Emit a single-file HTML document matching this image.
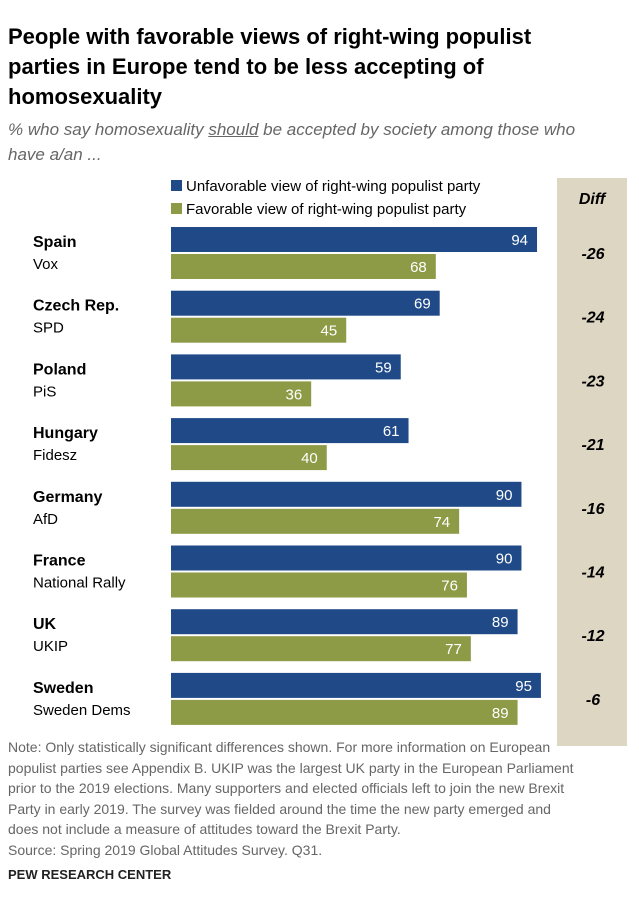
<!DOCTYPE html>
<html><head><meta charset="utf-8"><style>
body{margin:0;width:639px;height:912px;background:#fff;font-family:"Liberation Sans",sans-serif;position:relative;overflow:hidden}
.t{position:absolute;white-space:nowrap}
</style></head><body>
<div class="t" style="left:8px;top:22px;font-size:22px;font-weight:bold;line-height:30px;color:#000">People with favorable views of right-wing populist<br>parties in Europe tend to be less accepting of<br>homosexuality</div>
<div class="t" style="left:8px;top:117px;font-size:17px;font-style:italic;line-height:25px;color:#666">% who say homosexuality <u>should</u> be accepted by society among those who<br>have a/an ...</div>
<svg id="chart" width="639" height="912" style="position:absolute;left:0;top:0"></svg>
<div class="t" style="left:8px;top:737px;font-size:14px;line-height:20.5px;color:#666">Note: Only statistically significant differences shown. For more information on European<br>populist parties see Appendix B. UKIP was the largest UK party in the European Parliament<br>prior to the 2019 elections. Many supporters and elected officials left to join the new Brexit<br>Party in early 2019. The survey was fielded around the time the new party emerged and<br>does not include a measure of attitudes toward the Brexit Party.<br>Source: Spring 2019 Global Attitudes Survey. Q31.</div>
<div class="t" style="left:8px;top:867px;font-size:13px;font-weight:bold;color:#222">PEW RESEARCH CENTER</div>
<script>
const countries=["Spain","Czech Rep.","Poland","Hungary","Germany","France","UK","Sweden"];
const parties=["Vox","SPD","PiS","Fidesz","AfD","National Rally","UKIP","Sweden Dems"];
const unfav=[94,69,59,61,90,90,89,95];
const fav=[68,45,36,40,74,76,77,89];
const diffs=[-26,-24,-23,-21,-16,-14,-12,-6];
const NS="http://www.w3.org/2000/svg";
const svg=document.getElementById("chart");
const x=v=>171+v*3.894;
const rowY=i=>227+i*63.7;
function el(tag,attrs,text){const e=document.createElementNS(NS,tag);for(const k in attrs)e.setAttribute(k,attrs[k]);if(text!==undefined)e.textContent=text;svg.appendChild(e);return e;}
let d=el("rect",{x:557,y:178,width:70,height:568,fill:"#ddd6c3"});


let dh=el("text",{x:592,y:204,"font-size":16,"font-weight":"bold","font-style":"italic","text-anchor":"middle",fill:"#000"},"Diff");


let l1=el("rect",{x:171,y:180,width:11,height:11,fill:"#1f4a87"});


let lt1=el("text",{x:186,y:191,"font-size":15,fill:"#000"},"Unfavorable view of right-wing populist party");


let l2=el("rect",{x:171,y:203,width:11,height:11,fill:"#8d9a46"});


let lt2=el("text",{x:186,y:214,"font-size":15,fill:"#000"},"Favorable view of right-wing populist party");


countries.forEach((c,i)=>{
  const y=rowY(i);
  let cl=el("text",{x:33,y:y+20,"font-size":16,"font-weight":"bold",fill:"#000"},c);
  
  
  let pl=el("text",{x:33,y:y+42,"font-size":15,fill:"#000"},parties[i]);
  
  
  let b1=el("rect",{x:171,y:y,width:x(unfav[i])-171,height:25,fill:"#1f4a87"});
  
  
  let v1=el("text",{x:x(unfav[i])-9,y:y+18,"font-size":15,fill:"#fff","text-anchor":"end"},unfav[i]);
  
  
  let b2=el("rect",{x:171,y:y+27,width:x(fav[i])-171,height:25,fill:"#8d9a46"});
  
  
  let v2=el("text",{x:x(fav[i])-9,y:y+45,"font-size":15,fill:"#fff","text-anchor":"end"},fav[i]);
  
  
  let dv=el("text",{x:593,y:y+32,"font-size":16,"font-weight":"bold","font-style":"italic","text-anchor":"middle",fill:"#000"},diffs[i]);
  
  
});
</script>
</body></html>
